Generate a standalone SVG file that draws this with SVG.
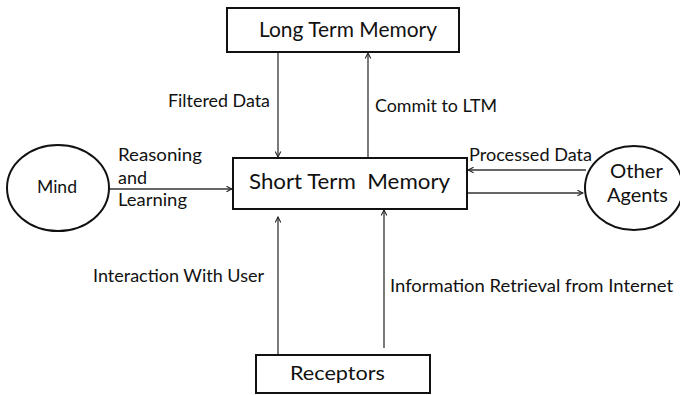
<svg xmlns="http://www.w3.org/2000/svg" width="680" height="395" viewBox="0 0 680 395">
<style>
.box{fill:#fff;stroke:#111;stroke-width:2}
.t{font-family:Lato,"Open Sans","Liberation Sans",sans-serif;fill:#111}
.c{stroke:#333;stroke-width:1.3;fill:none;marker-end:url(#ah)}
</style>
<defs>
<marker id="ah" viewBox="0 0 10 10" refX="9" refY="5" markerWidth="7" markerHeight="7" orient="auto" markerUnits="userSpaceOnUse">
<path d="M1,1 L9,5 L1,9" fill="none" stroke="#222" stroke-width="1.5"/>
</marker>
</defs>
<rect width="680" height="395" fill="#fff"/>
<g id="connectors">
<line class="c" x1="278" y1="53" x2="278" y2="157"/>
<line class="c" x1="368" y1="157" x2="368" y2="53"/>
<line class="c" x1="108" y1="189" x2="232" y2="189"/>
<line class="c" x1="586" y1="170" x2="468" y2="170"/>
<line class="c" x1="468" y1="193" x2="583" y2="193"/>
<line class="c" x1="278" y1="355" x2="278" y2="217"/>
<line class="c" x1="384" y1="348" x2="384" y2="210"/>
<text class="t" x="168" y="107" font-size="17" textLength="102" lengthAdjust="spacingAndGlyphs">Filtered Data</text>
<text class="t" x="375" y="112" font-size="17" textLength="122" lengthAdjust="spacingAndGlyphs">Commit to LTM</text>
<text class="t" x="118" y="161" font-size="17" textLength="84" lengthAdjust="spacingAndGlyphs">Reasoning</text>
<text class="t" x="118" y="184" font-size="17" textLength="29" lengthAdjust="spacingAndGlyphs">and</text>
<text class="t" x="118" y="206" font-size="17" textLength="69" lengthAdjust="spacingAndGlyphs">Learning</text>
<text class="t" x="469" y="161" font-size="17" textLength="123" lengthAdjust="spacingAndGlyphs">Processed Data</text>
<text class="t" x="93" y="282" font-size="17" textLength="171" lengthAdjust="spacingAndGlyphs">Interaction With User</text>
<text class="t" x="390" y="292" font-size="17" textLength="283" lengthAdjust="spacingAndGlyphs">Information Retrieval from Internet</text>
</g>
<g id="ltm">
<rect class="box" x="227" y="8" width="232" height="44"/>
<text class="t" x="259" y="37" font-size="21" textLength="178" lengthAdjust="spacingAndGlyphs">Long Term Memory</text>
</g>
<g id="stm">
<rect class="box" x="233" y="158" width="234" height="51"/>
<text class="t" x="249" y="189" font-size="22" textLength="201" lengthAdjust="spacingAndGlyphs" xml:space="preserve">Short Term  Memory</text>
</g>
<g id="mind">
<ellipse class="box" cx="58" cy="188" rx="51" ry="43"/>
<text class="t" x="37" y="193" font-size="17" textLength="40" lengthAdjust="spacingAndGlyphs">Mind</text>
</g>
<g id="agents">
<ellipse class="box" cx="634" cy="188" rx="49" ry="42"/>
<text class="t" x="610" y="178" font-size="20" textLength="53" lengthAdjust="spacingAndGlyphs">Other</text>
<text class="t" x="607" y="202" font-size="20" textLength="61" lengthAdjust="spacingAndGlyphs">Agents</text>
</g>
<g id="receptors">
<rect class="box" x="256" y="355" width="174" height="38"/>
<text class="t" x="290" y="380" font-size="19" textLength="95" lengthAdjust="spacingAndGlyphs">Receptors</text>
</g>
</svg>
